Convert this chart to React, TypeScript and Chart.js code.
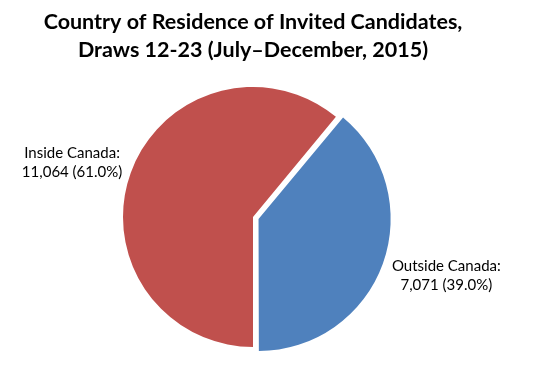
import React, { useEffect, useRef } from "react";
import { Chart, registerables } from "chart.js";

Chart.register(...registerables);

const categories = ["Inside Canada", "Outside Canada"];
const values = [11064, 7071];
const colors = ["#C0504D", "#4F81BD"];
const offsets = [0, 23.5];
const labelGap = [59, 72];
const titleLines = [
  "Country of Residence of Invited Candidates,",
  "Draws 12-23 (July\u2013December, 2015)",
];

const labelPlugin = {
  id: "sliceLabels",
  afterDatasetsDraw(chart: any) {
    const meta = chart.getDatasetMeta(0);
    const ctx = chart.ctx;
    const total = values.reduce((a, b) => a + b, 0);
    ctx.save();
    ctx.font = "15px Lato, 'Liberation Sans', sans-serif";
    ctx.fillStyle = "#000";
    ctx.textAlign = "center";
    ctx.textBaseline = "middle";
    meta.data.forEach((arc: any, i: number) => {
      const { x, y, startAngle, endAngle, outerRadius } = arc.getProps(
        ["x", "y", "startAngle", "endAngle", "outerRadius"],
        true
      );
      const mid = (startAngle + endAngle) / 2 - (3 * Math.PI) / 180;
      const d = outerRadius + labelGap[i];
      const lx = x + Math.cos(mid) * d;
      const ly = y + Math.sin(mid) * d;
      const pct = ((values[i] / total) * 100).toFixed(1);
      ctx.fillText(categories[i] + ":", lx, ly - 9);
      ctx.fillText(values[i].toLocaleString("en-US") + " (" + pct + "%)", lx, ly + 10);
    });
    ctx.restore();
  },
};

export default function App() {
  const ref = useRef<HTMLCanvasElement>(null);
  useEffect(() => {
    const chart = new Chart(ref.current!, {
      type: "pie",
      data: {
        labels: categories,
        datasets: [
          {
            data: values,
            backgroundColor: colors,
            borderWidth: 0,
            offset: offsets,
          } as any,
        ],
      },
      options: {
        animation: false,
        responsive: false,
        rotation: 180,
        radius: 130,
        layout: { padding: { left: 0, right: 27, top: 0, bottom: 0 } },
        plugins: {
          legend: { display: false },
          tooltip: { enabled: false },
          title: {
            display: true,
            text: titleLines,
            color: "#000",
            font: { family: "Lato, 'Liberation Sans', sans-serif", size: 21.5, weight: "bold", lineHeight: 1.3 },
            padding: { top: 0, bottom: 9 },
          },
        },
      } as any,
      plugins: [labelPlugin],
    });
    return () => chart.destroy();
  }, []);
  return (
    <div style={{ width: 517, height: 353 }}>
      <canvas ref={ref} width={517} height={353} style={{ display: "block" }} />
    </div>
  );
}
